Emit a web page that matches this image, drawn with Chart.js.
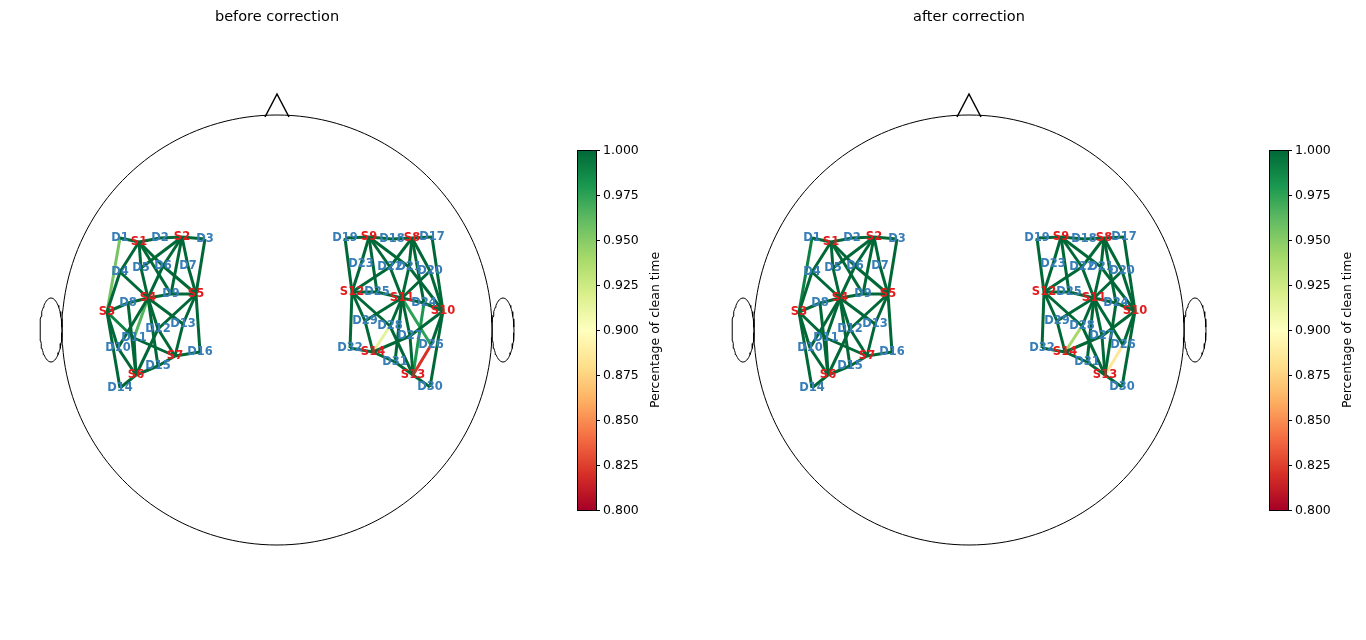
<!DOCTYPE html>
<html>
<head>
<meta charset="utf-8">
<script src="https://cdn.jsdelivr.net/npm/chart.js@4/dist/chart.umd.min.js"></script>
<style>
  html, body { margin: 0; padding: 0; background: #fff; }
  #wrap { width: 1366px; height: 640px; position: relative; }
</style>
</head>
<body>
<div id="wrap"><canvas id="headChart"></canvas></div>
<script>
// optode positions (px, left head), right head is shifted by headShift
const optodeNames = ['S1','S2','S3','S4','S5','S6','S7','S8','S9','S10','S11','S12','S13','S14',
  'D1','D2','D3','D4','D5','D6','D7','D8','D9','D10','D11','D12','D13','D14','D15','D16',
  'D17','D18','D19','D20','D21','D22','D23','D24','D25','D26','D27','D28','D29','D30','D31','D32'];
const optodeX = [139,182,107,148,196,136,175,412,369,443,402,352,413,373,
  120,160,205,120,141,163,188,128,171,118,134,158,183,120,158,200,
  432,392,345,430,409,390,361,424,377,431,410,390,365,430,395,350];
const optodeY = [242,237,312,298,294,375,356,238,237,311,298,292,375,352,
  238,238,239,272,268,266,266,303,294,348,338,329,324,388,366,352,
  237,239,238,271,267,267,264,303,292,345,336,326,321,387,362,348];

// channels (source-detector pairs)
const channels = [
  ['S1','D1'],['S1','D2'],['S1','D4'],['S1','D5'],['S1','D6'],['S1','D9'],
  ['S2','D2'],['S2','D3'],['S2','D5'],['S2','D6'],['S2','D7'],['S2','D9'],
  ['S3','D1'],['S3','D4'],['S3','D8'],['S3','D10'],['S3','D11'],['S3','D14'],
  ['S4','D4'],['S4','D5'],['S4','D6'],['S4','D8'],['S4','D9'],['S4','D11'],['S4','D12'],['S4','D13'],['S4','D15'],['S4','D10'],
  ['S5','D3'],['S5','D6'],['S5','D7'],['S5','D9'],['S5','D13'],['S5','D16'],['S5','D12'],
  ['S6','D10'],['S6','D11'],['S6','D12'],['S6','D14'],['S6','D15'],['S6','D8'],
  ['S7','D12'],['S7','D13'],['S7','D15'],['S7','D16'],['S7','D11'],
  ['S9','D19'],['S9','D18'],['S9','D23'],['S9','D22'],['S9','D21'],['S9','D25'],
  ['S8','D18'],['S8','D17'],['S8','D22'],['S8','D21'],['S8','D20'],['S8','D24'],
  ['S12','D19'],['S12','D23'],['S12','D25'],['S12','D29'],['S12','D32'],['S12','D22'],['S12','D28'],
  ['S11','D22'],['S11','D21'],['S11','D25'],['S11','D24'],['S11','D28'],['S11','D27'],['S11','D29'],['S11','D26'],['S11','D20'],['S11','D31'],
  ['S10','D17'],['S10','D20'],['S10','D24'],['S10','D26'],['S10','D27'],['S10','D30'],['S10','D21'],
  ['S14','D32'],['S14','D29'],['S14','D28'],['S14','D31'],['S14','D27'],
  ['S13','D31'],['S13','D27'],['S13','D26'],['S13','D30'],['S13','D28'],['S13','D24']
];
const cleanBefore = [
  1,1,1,1,1,1, 1,1,1,1,1,1, 0.955,1,1,1,0.99,1,
  1,1,1,1,1,0.965,1,1,1,1, 1,1,1,1,1,1,1, 1,1,1,1,1,1, 1,1,1,1,1,
  1,1,1,1,1,1, 1,1,1,1,1,1, 1,1,1,1,1,1,1,
  1,1,1,1,1,1,1,0.975,1,1, 1,1,1,1,1,1,1, 1,1,0.915,1,1, 1,1,0.82,1,1,0.98
];
const cleanAfter = [
  1,1,1,1,1,1, 1,1,1,1,1,1, 0.99,1,1,1,1,1,
  1,1,1,1,1,1,1,1,1,1, 1,1,1,1,1,1,1, 1,1,1,1,1,1, 1,1,1,1,1,
  1,1,1,1,1,1, 1,1,1,1,1,1, 1,1,1,1,1,1,1,
  1,1,1,1,1,1,1,1,1,1, 1,1,1,1,1,1,1, 1,1,0.94,1,1, 1,1,0.885,1,1,1
];
const panelTitles = ['before correction', 'after correction'];
const barTicks = [0.800,0.825,0.850,0.875,0.900,0.925,0.950,0.975,1.000];
const headShift = 692;

// RdYlGn colormap
const rdylgn = [[165,0,38],[215,48,39],[244,109,67],[253,174,97],[254,224,139],[255,255,191],
  [217,239,139],[166,217,106],[102,189,99],[26,152,80],[0,104,55]];
function cmap(v) {
  let t = Math.max(0, Math.min(1, (v - 0.8) / 0.2)) * (rdylgn.length - 1);
  const i = Math.min(Math.floor(t), rdylgn.length - 2), f = t - i;
  const a = rdylgn[i], b = rdylgn[i + 1];
  return 'rgb(' + a.map((c, k) => Math.round(c + (b[k] - c) * f)).join(',') + ')';
}
function pos(name, off) {
  const i = optodeNames.indexOf(name);
  return { x: optodeX[i] + off, y: optodeY[i] };
}

const datasets = [];
[cleanBefore, cleanAfter].forEach((vals, p) => {
  const off = p * headShift;
  // head outline
  const head = [];
  for (let a = 0; a <= 360; a += 2) {
    head.push({ x: 277 + off + 215 * Math.cos(a * Math.PI / 180), y: 330 + 215 * Math.sin(a * Math.PI / 180) });
  }
  datasets.push({ data: head, showLine: true, borderColor: '#000', borderWidth: 1, pointRadius: 0 });
  datasets.push({ data: [{x: 265 + off, y: 117}, {x: 277 + off, y: 94}, {x: 289 + off, y: 117}],
    showLine: true, borderColor: '#000', borderWidth: 1.5, pointRadius: 0 });
  [51, 503].forEach(cx => {
    const ear = [];
    for (let a = 0; a <= 360; a += 5) {
      ear.push({ x: cx + off + 11 * Math.cos(a * Math.PI / 180), y: 330 + 32 * Math.sin(a * Math.PI / 180) });
    }
    datasets.push({ data: ear, showLine: true, borderColor: '#000', borderWidth: 1, pointRadius: 0 });
  });
  // channels, sorted so lower values are drawn on top
  const order = channels.map((c, i) => i).sort((a, b) => vals[b] - vals[a]);
  order.forEach(i => {
    const c = channels[i];
    datasets.push({ data: [pos(c[0], off), pos(c[1], off)], showLine: true,
      borderColor: cmap(vals[i]), borderWidth: 3, pointRadius: 0 });
  });
});

const decorPlugin = {
  id: 'decor',
  afterDatasetsDraw(chart) {
    const ctx = chart.ctx, xs = chart.scales.x, ys = chart.scales.y;
    ctx.save();
    for (let p = 0; p < 2; p++) {
      const off = p * headShift;
      ctx.font = 'bold 11.5px "DejaVu Sans"';
      ctx.textAlign = 'center';
      ctx.textBaseline = 'middle';
      optodeNames.forEach((n, i) => {
        ctx.fillStyle = n[0] === 'S' ? '#e41a1c' : '#377eb8';
        ctx.fillText(n, xs.getPixelForValue(optodeX[i] + off), ys.getPixelForValue(optodeY[i]));
      });
      ctx.fillStyle = '#000';
      ctx.font = '14.5px "DejaVu Sans"';
      ctx.fillText(panelTitles[p], 277 + off, 17);
      // colorbar
      const bx = 577 + off, top = 150, bot = 510, w = 19;
      for (let y = top; y < bot; y++) {
        ctx.fillStyle = cmap(1 - (y - top + 0.5) / (bot - top) * 0.2);
        ctx.fillRect(bx, y, w, 1);
      }
      ctx.strokeStyle = '#000';
      ctx.lineWidth = 1;
      ctx.strokeRect(bx + 0.5, top + 0.5, w, bot - top);
      ctx.fillStyle = '#000';
      ctx.font = '12.5px "DejaVu Sans"';
      ctx.textAlign = 'left';
      barTicks.forEach(t => {
        const y = bot - (t - 0.8) / 0.2 * (bot - top) + 0.5;
        ctx.beginPath(); ctx.moveTo(bx + w, y); ctx.lineTo(bx + w + 4, y); ctx.stroke();
        ctx.fillText(t.toFixed(3), bx + w + 7, y);
      });
      ctx.save();
      ctx.translate(656 + off, 330);
      ctx.rotate(-Math.PI / 2);
      ctx.textAlign = 'center';
      ctx.fillText('Percentage of clean time', 0, 0);
      ctx.restore();
    }
    ctx.restore();
  }
};

new Chart(document.getElementById('headChart'), {
  type: 'scatter',
  data: { datasets: datasets },
  options: {
    responsive: true,
    maintainAspectRatio: false,
    animation: false,
    layout: { padding: 0 },
    plugins: { legend: { display: false }, tooltip: { enabled: false } },
    scales: {
      x: { type: 'linear', min: 0, max: 1366, display: false },
      y: { type: 'linear', min: 0, max: 640, reverse: true, display: false }
    }
  },
  plugins: [decorPlugin]
});
</script>
</body>
</html>
